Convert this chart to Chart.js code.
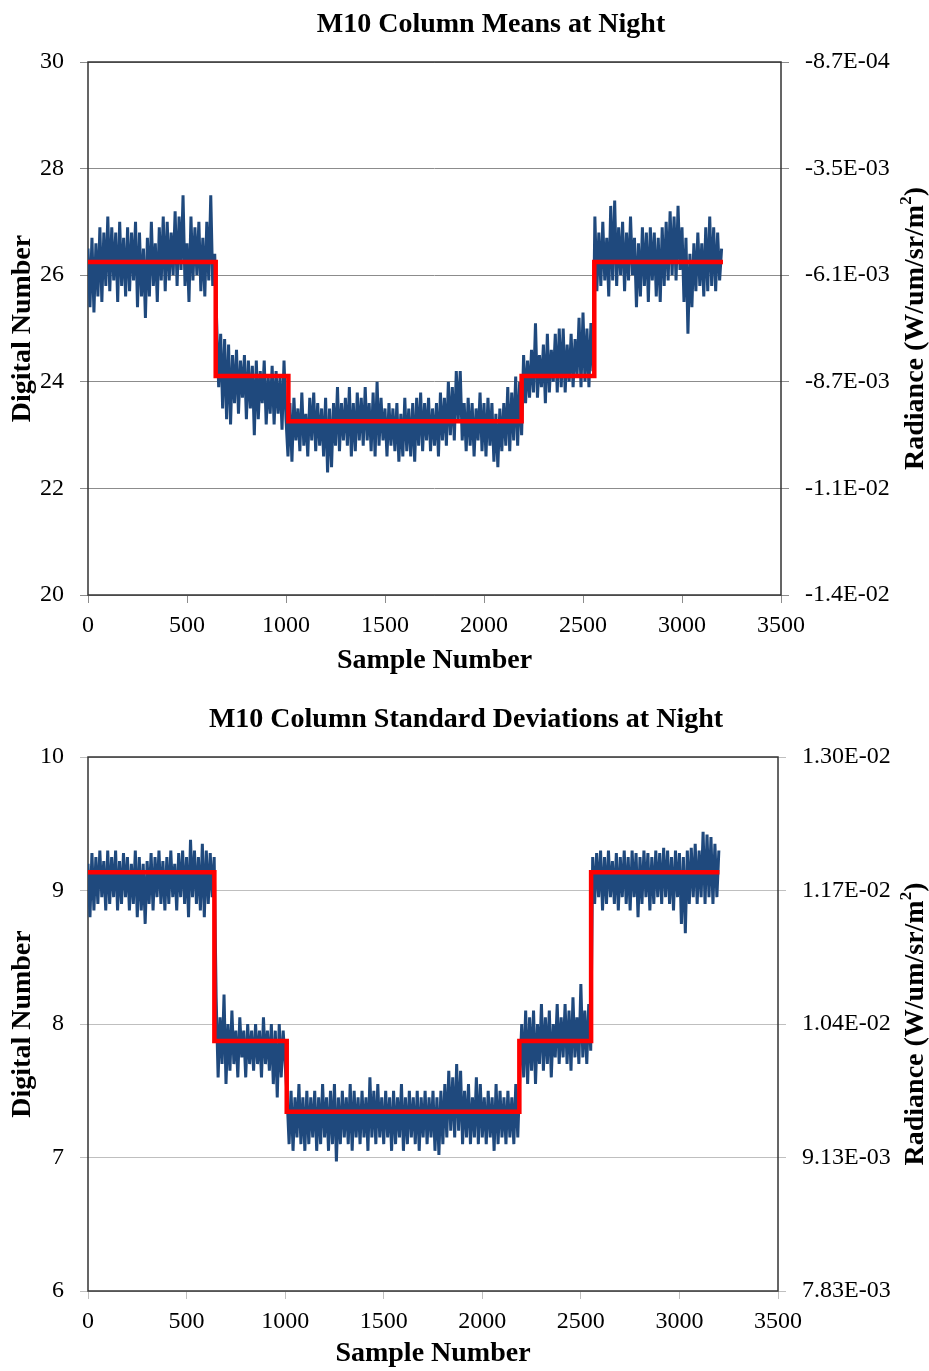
<!DOCTYPE html>
<html>
<head>
<meta charset="utf-8">
<script src="https://cdn.jsdelivr.net/npm/chart.js@4.4.0/dist/chart.umd.min.js"></script>
<style>
body { margin: 0; background: #fff; width: 929px; height: 1371px; overflow: hidden; position: relative; }
canvas { position: absolute; left: 0; }
#means_chart { top: 0; }
#sd_chart { top: 688px; }
</style>
</head>
<body>
<canvas id="means_chart" width="929" height="681"></canvas>
<canvas id="sd_chart" width="929" height="683"></canvas>
<script>
// one value every SAMPLE_STEP samples (rows of 10)
var SAMPLE_STEP = 10;

var meanDigital = [
    26.5, 25.4, 26.7, 25.3, 26.6, 25.6, 26.9, 25.5, 26.8, 25.8,
    27.1, 25.7, 26.9, 25.9, 26.8, 25.5, 27.0, 25.8, 26.7, 25.6,
    26.9, 25.7, 26.8, 25.9, 27.0, 25.4, 26.8, 25.6, 26.5, 25.2,
    26.7, 25.6, 27.0, 25.8, 26.6, 25.5, 26.9, 25.9, 27.1, 25.7,
    27.0, 25.9, 26.8, 26.0, 27.2, 25.8, 27.1, 26.1, 27.5, 25.8,
    26.6, 25.5, 27.1, 25.9, 26.9, 26.0, 27.0, 25.7, 26.7, 25.6,
    27.0, 25.9, 27.5, 25.8, 26.4,
    25.1, 23.9, 24.9, 23.5, 24.8, 23.3, 24.7, 23.2, 24.5, 23.6,
    24.6, 23.4, 24.4, 23.7, 24.5, 23.3, 24.4, 23.5, 24.3, 23.0,
    24.4, 23.3, 24.2, 23.6, 24.4, 23.2, 24.1, 23.4, 24.3, 23.2,
    24.2, 23.4, 24.1, 23.1, 24.4, 23.3,
    22.6, 23.6, 22.5, 23.7, 22.9, 23.5, 22.7, 23.8, 22.8, 23.4,
    22.6, 23.7, 22.9, 23.8, 22.7, 23.6, 22.8, 23.5, 22.6, 23.7,
    22.3, 23.5, 22.4, 23.6, 22.8, 23.9, 22.7, 23.6, 22.9, 23.7,
    22.8, 23.9, 22.6, 23.6, 22.7, 23.8, 22.9, 23.7, 22.8, 23.9,
    22.9, 23.6, 22.7, 23.8, 22.6, 24.0, 22.8, 23.7, 22.9, 23.5,
    22.6, 23.6, 22.8, 23.5, 22.7, 23.6, 22.5, 23.4, 22.6, 23.7,
    22.7, 23.5, 22.6, 23.6, 22.5, 23.7, 22.8, 23.8, 22.7, 23.6,
    22.9, 23.7, 22.7, 23.5, 22.8, 23.6, 22.6, 23.8, 22.9, 23.7,
    22.8, 24.0, 23.0, 23.9, 22.9, 24.2, 23.3, 24.2, 22.9, 23.6,
    22.7, 23.7, 22.8, 23.6, 22.6, 23.5, 22.9, 23.8, 22.7, 23.6,
    22.6, 23.7, 22.8, 23.6, 22.5, 23.4, 22.4, 23.5, 22.7, 23.6,
    22.8, 23.9, 22.7, 23.8, 22.9, 24.1, 22.8, 24.0, 23.0,
    24.5, 23.6, 24.4, 23.7, 24.6, 23.8, 25.1, 23.7, 24.5, 23.9,
    24.7, 23.6, 24.9, 23.8, 24.6, 24.0, 24.9, 23.8, 25.0, 23.9,
    25.0, 23.8, 24.7, 24.0, 24.9, 23.9, 24.8, 24.1, 25.2, 23.9,
    25.3, 24.0, 25.0, 23.9, 25.1, 24.2,
    27.1, 25.7, 26.8, 25.8, 27.0, 25.9, 26.7, 25.6, 27.3, 25.9,
    27.4, 25.8, 26.9, 26.0, 27.0, 25.7, 26.8, 25.9, 27.1, 26.0,
    26.7, 25.4, 26.6, 25.6, 26.9, 25.8, 26.8, 25.5, 26.9, 25.9,
    26.8, 25.6, 26.7, 25.5, 26.9, 25.8, 27.0, 25.9, 27.2, 26.0,
    27.1, 25.9, 27.3, 26.1, 26.9, 25.5, 26.7, 24.9, 26.4, 25.4,
    26.6, 25.7, 26.8, 25.8, 26.6, 25.6, 26.9, 25.7, 27.1, 25.8,
    26.9, 25.7, 26.8, 25.9, 26.5
];
var meanStepEdges = [0, 645, 1012, 2190, 2557, 3207];
var meanStepLevels = [26.25, 24.11, 23.26, 24.11, 26.25];
var meanRightTicks = ['-1.4E-02', '-1.1E-02', '-8.7E-03', '-6.1E-03', '-3.5E-03', '-8.7E-04'];

var sdDigital = [
    9.2, 8.8, 9.28, 8.85, 9.25, 8.9, 9.3, 8.95, 9.22, 8.85,
    9.3, 8.9, 9.25, 8.95, 9.3, 8.85, 9.22, 8.9, 9.28, 8.95,
    9.25, 8.85, 9.2, 8.9, 9.3, 8.8, 9.25, 8.85, 9.2, 8.75,
    9.22, 8.9, 9.28, 8.85, 9.25, 8.95, 9.3, 8.9, 9.22, 8.85,
    9.25, 8.9, 9.3, 8.95, 9.2, 8.85, 9.28, 8.95, 9.3, 8.9,
    9.25, 8.8, 9.38, 8.95, 9.3, 8.9, 9.25, 8.85, 9.35, 8.8,
    9.3, 8.9, 9.28, 8.95, 9.25,
    8.2, 7.6, 8.05, 7.7, 8.22, 7.55, 8.0, 7.65, 8.1, 7.7,
    7.95, 7.6, 8.05, 7.75, 7.95, 7.6, 8.0, 7.7, 7.95, 7.65,
    8.0, 7.7, 7.95, 7.6, 8.05, 7.7, 7.95, 7.65, 8.0, 7.55,
    7.95, 7.45, 8.0, 7.6, 7.95, 7.7,
    7.45, 7.1, 7.5, 7.05, 7.45, 7.15, 7.55, 7.1, 7.45, 7.05,
    7.5, 7.1, 7.45, 7.15, 7.5, 7.05, 7.45, 7.1, 7.55, 7.15,
    7.45, 7.05, 7.5, 7.1, 7.55, 6.97, 7.45, 7.1, 7.5, 7.15,
    7.45, 7.1, 7.55, 7.05, 7.5, 7.15, 7.45, 7.1, 7.5, 7.15,
    7.45, 7.05, 7.6, 7.15, 7.5, 7.1, 7.55, 7.15, 7.45, 7.1,
    7.5, 7.15, 7.45, 7.05, 7.5, 7.1, 7.45, 7.15, 7.55, 7.05,
    7.45, 7.1, 7.5, 7.15, 7.45, 7.1, 7.5, 7.05, 7.45, 7.15,
    7.5, 7.1, 7.45, 7.15, 7.5, 7.05, 7.45, 7.02, 7.5, 7.1,
    7.55, 7.15, 7.65, 7.2, 7.6, 7.15, 7.7, 7.2, 7.65, 7.1,
    7.5, 7.15, 7.55, 7.1, 7.45, 7.15, 7.6, 7.1, 7.55, 7.15,
    7.45, 7.1, 7.5, 7.15, 7.45, 7.05, 7.55, 7.1, 7.5, 7.15,
    7.45, 7.1, 7.5, 7.15, 7.45, 7.1, 7.55, 7.15, 7.6,
    8.0, 7.6, 8.1, 7.55, 8.05, 7.65, 8.1, 7.55, 8.0, 7.7,
    8.15, 7.65, 8.05, 7.7, 8.1, 7.6, 8.0, 7.75, 8.15, 7.7,
    8.05, 7.75, 8.15, 7.7, 8.1, 7.65, 8.2, 7.75, 8.05, 7.7,
    8.3, 7.75, 8.1, 7.7, 8.15, 7.8,
    9.25, 8.9, 9.28, 8.95, 9.3, 8.85, 9.25, 8.9, 9.3, 8.95,
    9.22, 8.9, 9.28, 8.85, 9.25, 8.95, 9.3, 8.9, 9.25, 8.85,
    9.3, 8.95, 9.28, 8.8, 9.25, 8.9, 9.3, 8.95, 9.28, 8.85,
    9.25, 8.9, 9.3, 8.95, 9.28, 8.9, 9.32, 8.95, 9.3, 8.9,
    9.25, 8.85, 9.3, 8.95, 9.28, 8.75, 9.25, 8.68, 9.3, 8.9,
    9.32, 8.95, 9.35, 8.9, 9.3, 8.95, 9.44, 8.9, 9.42, 8.95,
    9.4, 8.9, 9.35, 8.95, 9.3
];
var sdStepEdges = [0, 641, 1008, 2188, 2552, 3203];
var sdStepLevels = [9.136, 7.873, 7.343, 7.873, 9.136];
var sdRightTicks = ['7.83E-03', '9.13E-03', '1.04E-02', '1.17E-02', '1.30E-02'];

var FONT = '"Liberation Serif", "Times New Roman", serif';

function samplePoints(values) {
    return values.map(function (v, i) {
        return { x: i * SAMPLE_STEP, y: v };
    });
}

function stepPoints(edges, levels) {
    var pts = [];
    levels.forEach(function (lvl, i) {
        pts.push({ x: edges[i], y: lvl });
        pts.push({ x: edges[i + 1], y: lvl });
    });
    return pts;
}

// frame, chart title and the right-hand axis title (reads bottom to top, with superscript)
var panelDecor = {
    id: 'panelDecor',
    beforeDatasetsDraw: function (chart) {
        var a = chart.chartArea, ctx = chart.ctx;
        ctx.save();
        ctx.strokeStyle = '#333';
        ctx.lineWidth = 1.5;
        ctx.strokeRect(a.left, a.top, a.right - a.left, a.bottom - a.top);
        ctx.restore();
    },
    afterDraw: function (chart, args, opts) {
        var ctx = chart.ctx, a = chart.chartArea;
        ctx.save();
        ctx.fillStyle = '#000';
        ctx.font = 'bold 28px ' + FONT;
        ctx.textAlign = 'center';
        ctx.textBaseline = 'middle';
        ctx.fillText(opts.title, opts.titleX, opts.titleY);

        var main = 'Radiance (W/um/sr/m', sup = '2', tail = ')';
        var wMain = ctx.measureText(main).width;
        var wTail = ctx.measureText(tail).width;
        ctx.font = 'bold 17px ' + FONT;
        var wSup = ctx.measureText(sup).width;
        var total = wMain + wSup + wTail;
        ctx.translate(opts.rightTitleX, (a.top + a.bottom) / 2);
        ctx.rotate(-Math.PI / 2);
        ctx.textAlign = 'left';
        ctx.font = 'bold 28px ' + FONT;
        ctx.fillText(main, -total / 2, 0);
        ctx.font = 'bold 17px ' + FONT;
        ctx.fillText(sup, -total / 2 + wMain, -9);
        ctx.font = 'bold 28px ' + FONT;
        ctx.fillText(tail, -total / 2 + wMain + wSup, 0);
        ctx.restore();
    }
};

function createPanel(canvasId, p) {
    var ctx = document.getElementById(canvasId).getContext('2d');
    var tickFont = { family: FONT, size: 24 };
    var titleFont = { family: FONT, size: 28, weight: 'bold' };
    return new Chart(ctx, {
        type: 'line',
        data: {
            datasets: [
                {
                    data: stepPoints(p.edges, p.levels),
                    borderColor: '#FF0000',
                    borderWidth: 4.5,
                    pointRadius: 0,
                    fill: false
                },
                {
                    data: samplePoints(p.values),
                    borderColor: '#1F497D',
                    borderWidth: 3,
                    pointRadius: 0,
                    fill: false
                }
            ]
        },
        options: {
            responsive: false,
            animation: false,
            layout: { padding: { top: p.top, left: 0, right: 0, bottom: 0 } },
            plugins: {
                legend: { display: false },
                tooltip: { enabled: false },
                panelDecor: {
                    title: p.title,
                    titleX: p.titleX,
                    titleY: p.titleY,
                    rightTitleX: 916
                }
            },
            scales: {
                x: {
                    type: 'linear',
                    min: 0,
                    max: 3500,
                    ticks: {
                        stepSize: 500,
                        padding: 8,
                        color: '#000',
                        font: tickFont,
                        maxRotation: 0,
                        callback: function (v) { return String(v); }
                    },
                    grid: { drawOnChartArea: false, tickLength: 8, color: p.gridColor },
                    border: { display: false },
                    title: {
                        display: true,
                        text: 'Sample Number',
                        color: '#000',
                        font: titleFont,
                        padding: { top: 0, bottom: p.xTitlePad }
                    },
                    afterFit: function (s) { s.height = p.xAxisHeight; }
                },
                y: {
                    min: p.min,
                    max: p.max,
                    ticks: {
                        stepSize: p.step,
                        padding: 16,
                        color: '#000',
                        font: tickFont,
                        callback: function (v) { return String(v); }
                    },
                    grid: { color: p.gridColor, tickLength: 8 },
                    border: { display: false },
                    title: {
                        display: true,
                        text: 'Digital Number',
                        color: '#000',
                        font: titleFont,
                        padding: { top: 6, bottom: 0 }
                    },
                    afterFit: function (s) { s.width = 88; }
                },
                y2: {
                    position: 'right',
                    min: p.min,
                    max: p.max,
                    ticks: {
                        stepSize: p.step,
                        padding: 16,
                        color: '#000',
                        font: tickFont,
                        callback: function (v) {
                            return p.rightTicks[Math.round((v - p.min) / p.step)];
                        }
                    },
                    grid: { drawOnChartArea: false, tickLength: 8, color: p.gridColor },
                    border: { display: false },
                    afterFit: function (s) { s.width = p.rightWidth; }
                }
            }
        },
        plugins: [panelDecor]
    });
}

createPanel('means_chart', {
    title: 'M10 Column Means at Night',
    titleX: 491, titleY: 25,
    values: meanDigital,
    edges: meanStepEdges,
    levels: meanStepLevels,
    rightTicks: meanRightTicks,
    min: 20, max: 30, step: 2,
    top: 62,
    xAxisHeight: 86,
    xTitlePad: 3,
    rightWidth: 148,
    gridColor: '#8c8c8c'
});

createPanel('sd_chart', {
    title: 'M10 Column Standard Deviations at Night',
    titleX: 466, titleY: 32,
    values: sdDigital,
    edges: sdStepEdges,
    levels: sdStepLevels,
    rightTicks: sdRightTicks,
    min: 6, max: 10, step: 1,
    top: 69,
    xAxisHeight: 80,
    xTitlePad: 0,
    rightWidth: 151,
    gridColor: '#bfbfbf'
});
</script>
</body>
</html>
